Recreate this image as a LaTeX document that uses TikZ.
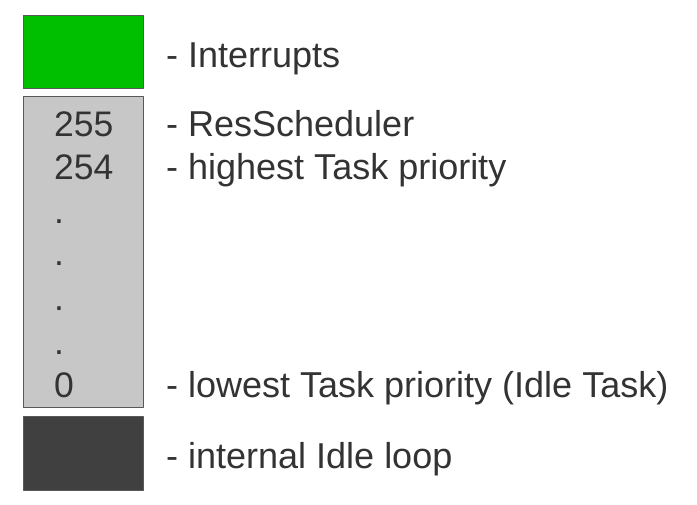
\documentclass[tikz,border=0pt]{standalone}
\usepackage{fontspec}
\setmainfont{Liberation Sans}
\definecolor{qqbfqq}{rgb}{0,0.75,0}
\definecolor{cccccc}{rgb}{0.78,0.78,0.78}
\definecolor{dddddd}{rgb}{0.25,0.25,0.25}
\definecolor{uuuuuu}{rgb}{0.35,0.35,0.35}
\definecolor{zzzzzz}{rgb}{0.2,0.2,0.2}
\begin{document}
\begin{tikzpicture}[line cap=round,line join=round,x=1pt,y=-1pt,
		lbl/.style={anchor=base west,inner sep=0pt,text=zzzzzz,font=\fontsize{35.5}{42}\selectfont},
		txt/.style={lbl,font=\fontsize{36}{42}\selectfont}]
	\useasboundingbox (0,0) rectangle (697,505);
		\draw [color=uuuuuu,fill=qqbfqq,line width=1pt] (23,16) rectangle (143,89);
		\draw [color=uuuuuu,fill=cccccc,line width=1pt] (23,97) rectangle (143,408);
		\draw [color=uuuuuu,fill=dddddd,line width=1pt] (23,417) rectangle (143,490);
	\node[lbl] (p255) at (54,137) {255};
	\node[lbl] (p254) at (54,180) {254};
	\node[lbl] (d1) at (54,224) {.};
	\node[lbl] (d2) at (54,266) {.};
	\node[lbl] (d3) at (54,311) {.};
	\node[lbl] (d4) at (54,355) {.};
	\node[lbl] (p0) at (54,398) {0};
		\node[txt] (irq) at (166,68) {- Interrupts};
		\node[txt] (sched) at (166,137) {- ResScheduler};
		\node[txt] (high) at (166,180) {- highest Task priority};
		\node[txt] (low) at (166,398) {- lowest Task priority (Idle Task)};
		\node[txt] (idle) at (166,468) {- internal Idle loop};
\end{tikzpicture}
\end{document}
